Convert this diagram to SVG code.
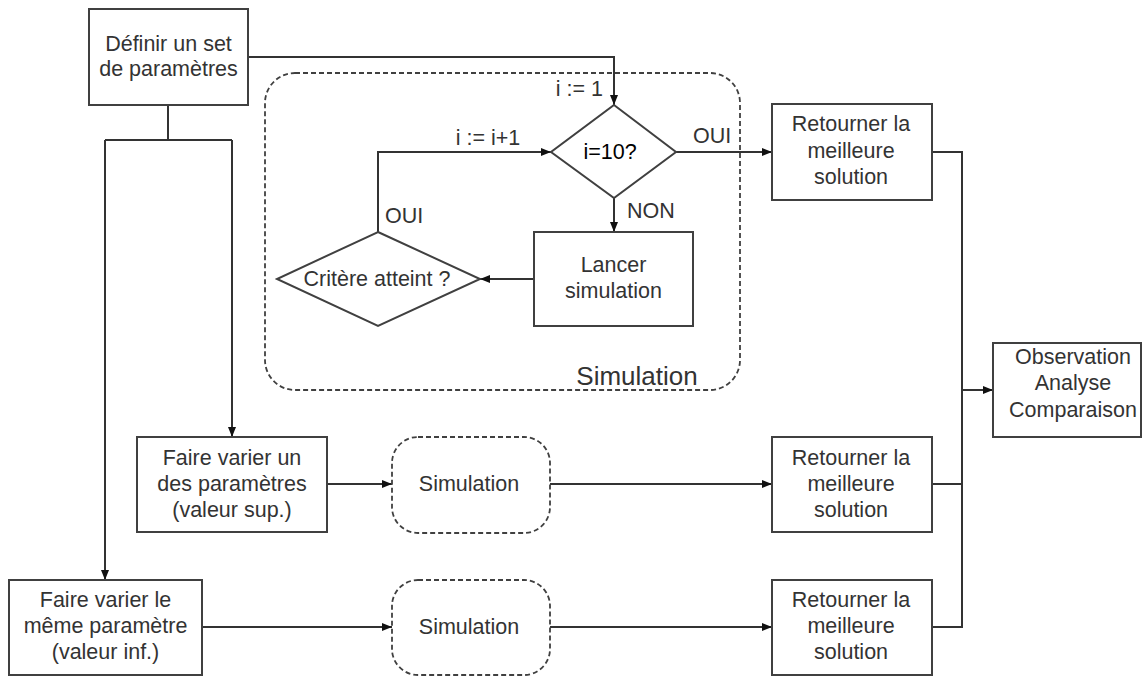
<svg xmlns="http://www.w3.org/2000/svg" width="1145" height="677" viewBox="0 0 1145 677">
<defs>
<marker id="arr" viewBox="0 0 10 8" refX="10" refY="4" markerWidth="10" markerHeight="8" markerUnits="userSpaceOnUse" orient="auto">
<path d="M0,0 L10,4 L0,8 Z" fill="#111"/>
</marker>
<style>
.box{fill:#fff;stroke:#404040;stroke-width:2}
.dash{fill:none;stroke:#404040;stroke-width:1.8;stroke-dasharray:5 3}
.dashbox{fill:#fff;stroke:#404040;stroke-width:1.8;stroke-dasharray:5 3}
.t{font-family:"Liberation Sans",Arial,sans-serif;font-size:21.5px;fill:#333;text-anchor:middle}
.lbl{font-family:"Liberation Sans",Arial,sans-serif;font-size:21.5px;fill:#333}
.c{fill:none;stroke:#333;stroke-width:2}
</style>
</defs>
<rect width="1145" height="677" fill="#fff"/>

<g id="simulation-group">
<rect class="dash" x="265" y="73" width="475" height="317" rx="30" ry="30"/>
<text class="t" x="637" y="385" style="font-size:26px">Simulation</text>
</g>

<g id="connectors">
<path class="c" d="M248,57 H614 V105" marker-end="url(#arr)"/>
<path class="c" d="M168,105 V140"/>
<path class="c" d="M105,140 H232"/>
<path class="c" d="M232,140 V437" marker-end="url(#arr)"/>
<path class="c" d="M105,140 V580" marker-end="url(#arr)"/>
<path class="c" d="M676,152 H772" marker-end="url(#arr)"/>
<path class="c" d="M614,198 V232" marker-end="url(#arr)"/>
<path class="c" d="M534,279 H480" marker-end="url(#arr)"/>
<path class="c" d="M378,232 V152 H551" marker-end="url(#arr)"/>
<path class="c" d="M327,484 H392" marker-end="url(#arr)"/>
<path class="c" d="M550,484 H772" marker-end="url(#arr)"/>
<path class="c" d="M202,627 H392" marker-end="url(#arr)"/>
<path class="c" d="M550,627 H772" marker-end="url(#arr)"/>
<path class="c" d="M932,152 H962 V627 H932"/>
<path class="c" d="M932,484 H962"/>
<path class="c" d="M962,390 H993" marker-end="url(#arr)"/>
<text class="lbl" x="603" y="96" text-anchor="end">i := 1</text>
<text class="lbl" x="693" y="143">OUI</text>
<text class="lbl" x="627" y="218">NON</text>
<text class="lbl" x="385" y="223">OUI</text>
<text class="lbl" x="488" y="145" text-anchor="middle">i := i+1</text>
</g>

<g id="definir">
<rect class="box" x="89" y="9" width="159" height="96"/>
<text class="t" x="168.5" y="51">Définir un set</text>
<text class="t" x="168.5" y="76">de paramètres</text>
</g>

<g id="cond-i10">
<polygon class="box" points="614,105 676,152 614,198 551,152"/>
<text class="t" x="610" y="159" style="fill:#000">i=10?</text>
</g>

<g id="lancer">
<rect class="box" x="534" y="232" width="159" height="94"/>
<text class="t" x="613.5" y="272">Lancer</text>
<text class="t" x="613.5" y="298">simulation</text>
</g>

<g id="critere">
<polygon class="box" points="378,232 480,279 378,326 277,279"/>
<text class="t" x="377" y="286">Critère atteint ?</text>
</g>

<g id="retour1">
<rect class="box" x="772" y="104" width="160" height="96"/>
<text class="t" x="851" y="131">Retourner la</text>
<text class="t" x="851" y="158">meilleure</text>
<text class="t" x="851" y="184">solution</text>
</g>

<g id="observation">
<rect class="box" x="993" y="343" width="148" height="94"/>
<text class="t" x="1073" y="364">Observation</text>
<text class="t" x="1073" y="390">Analyse</text>
<text class="t" x="1073" y="417">Comparaison</text>
</g>

<g id="varier-sup">
<rect class="box" x="137" y="437" width="190" height="95"/>
<text class="t" x="232" y="465">Faire varier un</text>
<text class="t" x="232" y="491">des paramètres</text>
<text class="t" x="232" y="517">(valeur sup.)</text>
</g>

<g id="simulation-sup">
<rect class="dashbox" x="392" y="437" width="158" height="96" rx="26" ry="26"/>
<text class="t" x="469" y="491">Simulation</text>
</g>

<g id="retour2">
<rect class="box" x="772" y="437" width="160" height="95"/>
<text class="t" x="851" y="465">Retourner la</text>
<text class="t" x="851" y="491">meilleure</text>
<text class="t" x="851" y="517">solution</text>
</g>

<g id="varier-inf">
<rect class="box" x="9" y="580" width="193" height="95"/>
<text class="t" x="105.5" y="607">Faire varier le</text>
<text class="t" x="105.5" y="633">même paramètre</text>
<text class="t" x="105.5" y="659">(valeur inf.)</text>
</g>

<g id="simulation-inf">
<rect class="dashbox" x="392" y="580" width="158" height="95" rx="26" ry="26"/>
<text class="t" x="469" y="634">Simulation</text>
</g>

<g id="retour3">
<rect class="box" x="772" y="580" width="160" height="95"/>
<text class="t" x="851" y="607">Retourner la</text>
<text class="t" x="851" y="633">meilleure</text>
<text class="t" x="851" y="659">solution</text>
</g>
</svg>
